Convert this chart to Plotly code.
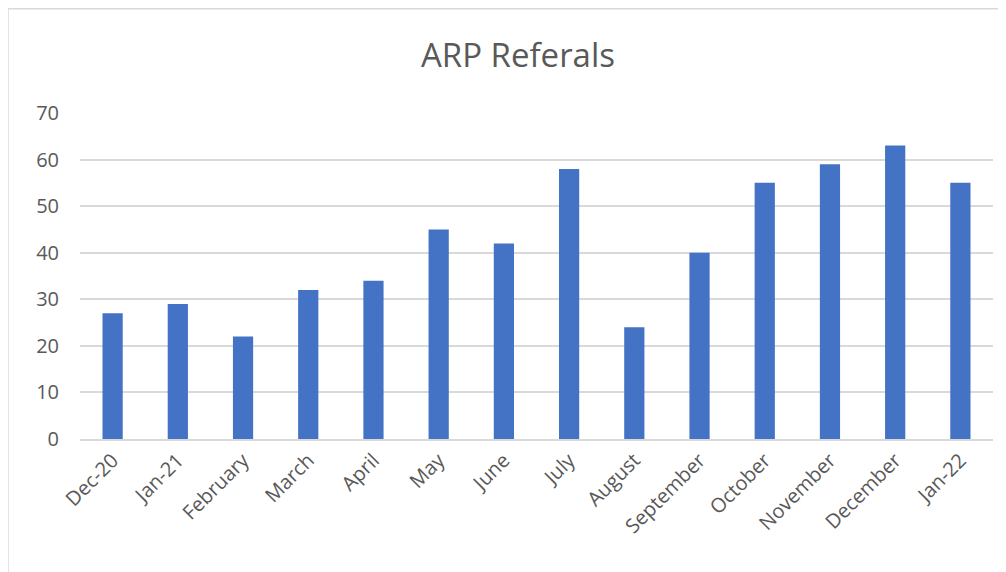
import plotly.graph_objects as go

categories = ["Dec-20", "Jan-21", "February", "March", "April", "May", "June",
              "July", "August", "September", "October", "November", "December", "Jan-22"]
values = [27, 29, 22, 32, 34, 45, 42, 58, 24, 40, 55, 59, 63, 55]
y_ticks = [0, 10, 20, 30, 40, 50, 60, 70]

fig = go.Figure(go.Bar(x=categories, y=values, marker=dict(color="#4472C4", line=dict(width=0))))

fig.update_layout(
    width=998, height=564,
    margin=dict(l=72, r=13, t=105, b=133, autoexpand=False),
    paper_bgcolor="white", plot_bgcolor="white",
    bargap=0.69,
    title=dict(text="ARP Referals", x=0.511, xanchor="center", y=0.915, yanchor="middle",
               font=dict(family="Open Sans", size=33, color="#595959")),
    font=dict(family="Open Sans", size=20, color="#595959"),
    showlegend=False,
    xaxis=dict(tickangle=-45, showline=True, linecolor="#D9D9D9", linewidth=1.5,
               showgrid=False, ticks="", tickfont=dict(size=20, color="#595959")),
    yaxis=dict(range=[0, 70], tickvals=y_ticks, showgrid=True, gridcolor="#D9D9D9",
               gridwidth=1.5, zeroline=False, showline=False, ticks="",
               tickfont=dict(size=20, color="#595959"), ticklabelstandoff=20),
    shapes=[dict(type="rect", xref="paper", yref="paper", x0=-0.0789, x1=1.011, y0=-0.6, y1=1.32,
                 line=dict(color="#D9D9D9", width=1.5))],
)

fig.write_html("out.html")
